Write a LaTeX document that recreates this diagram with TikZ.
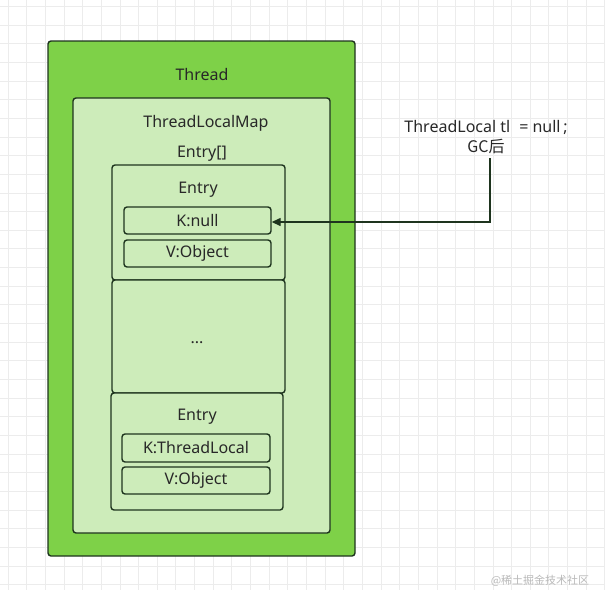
\documentclass[tikz,border=0pt]{standalone}
\usepackage{fontspec}
\setmainfont{Noto Sans}
\newfontfamily\cjk{Noto Sans CJK SC}
\usetikzlibrary{arrows.meta}
\definecolor{gOut}{RGB}{126,209,72}
\definecolor{gIn}{RGB}{205,236,186}
\definecolor{bd}{RGB}{30,52,30}
\definecolor{tx}{RGB}{40,40,40}
\definecolor{gridc}{RGB}{236,236,236}
\tikzset{
  box/.style={draw=bd, line width=1.4pt, rounded corners=3pt},
  lbl/.style={text=tx, font=\fontsize{16}{19}\selectfont, inner sep=0pt},
}
\begin{document}
\begin{tikzpicture}[x=1pt,y=-1pt]
\useasboundingbox (0,0) rectangle (616,600);
\fill[white] (0,0) rectangle (616,600);
% grid
\foreach \i in {0,...,32} {
  \draw[gridc, line width=0.8pt] ({8+18.65*\i},0) -- ({8+18.65*\i},590);
}
\foreach \j in {0,...,31} {
  \draw[gridc, line width=0.8pt] (0,{6.4+18.65*\j}) -- (604,{6.4+18.65*\j});
}
% Thread
\path[box, fill=gOut] (48,41) rectangle (355,556);
\node[lbl] (thread) at (202,74) {Thread};
% ThreadLocalMap
\path[box, fill=gIn] (73,98) rectangle (330,533);
\node[lbl] (tlm) at (206,123) {ThreadLocalMap};
\node[lbl] (arr) at (202,154) {Entry[]};
% Entry 1
\path[box, fill=gIn] (112,165) rectangle (285,280);
\node[lbl] (e1) at (198,190) {Entry};
\node[box, fill=gIn, minimum width=147pt, minimum height=27pt, lbl, inner sep=0pt] (k1) at (197.5,220.5) {K:null};
\node[box, fill=gIn, minimum width=147pt, minimum height=27pt, lbl, inner sep=0pt] (v1) at (197.5,253.5) {V:Object};
% dots
\path[box, fill=gIn] (112,280) rectangle (285,393);
\node[lbl] (dots) at (197,343) {...};
% Entry 2
\path[box, fill=gIn] (111,393) rectangle (283,510);
\node[lbl] (e2) at (197,417) {Entry};
\node[box, fill=gIn, minimum width=148pt, minimum height=28pt, lbl, inner sep=0pt] (k2) at (196,448) {K:ThreadLocal};
\node[box, fill=gIn, minimum width=148pt, minimum height=27pt, lbl, inner sep=0pt] (v2) at (196,480.5) {V:Object};
% note
\node[lbl, align=center] (note) at (486,137) {ThreadLocal tl\hspace{9pt}= null\,;\\[1pt]{\cjk GC后}};
\coordinate (c1) at (490,158);
\coordinate (c2) at (490,222);
\draw[draw=bd, line width=1.4pt, -{Triangle[length=9pt,width=8pt]}] (c1) -- (c2) -- (k1.east |- c2);
% watermark
\node[text=gray!55, font=\cjk\fontsize{11}{13}\selectfont, inner sep=0pt] (wm) at (540,581) {@稀土掘金技术社区};
\end{tikzpicture}
\end{document}
